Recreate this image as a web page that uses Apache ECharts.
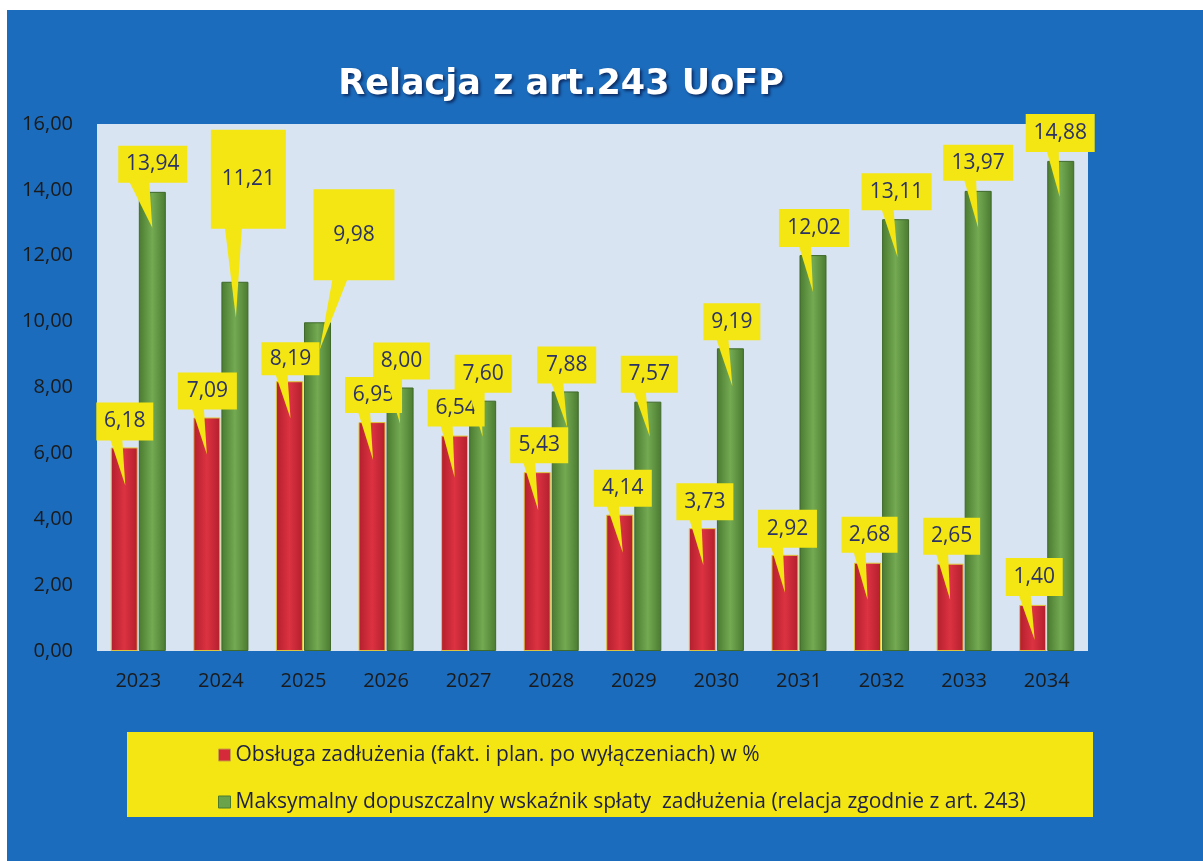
<!DOCTYPE html>
<html>
<head>
<meta charset="utf-8">
<script src="https://cdn.jsdelivr.net/npm/echarts@6/dist/echarts.min.js"></script>
<style>
html,body{margin:0;padding:0;background:#ffffff;}
#chart{width:1203px;height:861px;}
</style>
</head>
<body>
<div id="chart"></div>
<script>
// ---- data ----
const categories = ['2023','2024','2025','2026','2027','2028','2029','2030','2031','2032','2033','2034'];
const debtService = [6.18, 7.09, 8.19, 6.95, 6.54, 5.43, 4.14, 3.73, 2.92, 2.68, 2.65, 1.40];
const maxRatio = [13.94, 11.21, 9.98, 8.00, 7.60, 7.88, 7.57, 9.19, 12.02, 13.11, 13.97, 14.88];
const yMin = 0, yMax = 16, yStep = 2;
const seriesNames = [
  'Obsługa zadłużenia (fakt. i plan. po wyłączeniach) w %',
  'Maksymalny dopuszczalny wskaźnik spłaty  zadłużenia (relacja zgodnie z art. 243)'
];
const titleText = 'Relacja z art.243 UoFP';

// ---- callout styling (offsets relative to bar top: box x, box y, w, h, tip dx, tip dy, tail base l, r) ----
const redCallouts = [
  [-28,-45,57,38,1,38,-14,-2],[-29,-45,59,37,0,37,-15,-3],[-28,-39,58,33,1,37,-14,-2],
  [-27,-45,57,36,1,38,-14,-2],[-27,-46,57,37,0,42,-14,-2],[-27,-45,58,36,1,38,-14,-2],
  [-26,-45,58,37,3,38,-13,-1],[-26,-45,57,37,1,37,-13,-1],[-27,-45,59,38,0,38,-14,-2],
  [-26,-46,56,36,0,37,-14,-2],[-27,-46,57,37,0,36,-14,-2],[-27,-47,57,38,2,35,-14,-2]
];
const greenCallouts = [
  [-34,-46,69,37,0,36,-23,-3],[-24,-152,75,99,1,36,-10,7],[-4,-133,81,91,2,28,15,30],
  [-27,-45,57,37,0,36,-14,-2],[-28,-46,57,38,0,36,-14,-2],[-28,-45,59,37,2,36,-14,-2],
  [-27,-46,57,37,2,35,-14,-2],[-27,-45,57,37,2,38,-14,-2],[-34,-46,70,38,0,37,-14,-2],
  [-34,-46,70,37,2,38,-14,-2],[-35,-46,70,36,0,37,-14,-2],[-35,-47,69,38,-1,36,-14,-2]
];
const YELLOW = '#f3e612';
const FONT = '"Open Sans", "Noto Sans", sans-serif';
const fmt = v => v.toFixed(2).replace('.', ',');

function calloutRenderer(layouts, barOffset) {
  return function (params, api) {
    const i = api.value(0), v = api.value(1);
    const p = api.coord([i, v]);
    const ax = p[0] + barOffset, ay = p[1];
    const L = layouts[i];
    const bx = ax + L[0], by = ay + L[1], w = L[2], h = L[3];
    const tipX = ax + L[4], tipY = ay + L[5];
    const baseY = by + h - 1;
    return {
      type: 'group',
      children: [
        { type: 'polygon', shape: { points: [[ax + L[6], baseY], [ax + L[7], baseY], [tipX, tipY]] },
          style: { fill: YELLOW } },
        { type: 'rect', shape: { x: bx, y: by, width: w, height: h }, style: { fill: YELLOW } },
        { type: 'text', style: { text: fmt(v), x: bx + w / 2, y: by + h / 2, align: 'center', verticalAlign: 'middle',
          fill: '#2b3264', font: '21px ' + FONT } }
      ]
    };
  };
}

const chart = echarts.init(document.getElementById('chart'), null, { renderer: 'canvas' });
const barGrad = (edge, mid) => ({ type: 'linear', x: 0, y: 0, x2: 1, y2: 0,
  colorStops: [{ offset: 0, color: edge }, { offset: 0.5, color: mid }, { offset: 1, color: edge }] });

chart.setOption({
  animation: false,
  backgroundColor: '#ffffff',
  graphic: [
    { type: 'rect', z: -10, silent: true, shape: { x: 7, y: 10, width: 1196, height: 851 }, style: { fill: '#1b6cbc' } },
    { type: 'rect', z: -5, silent: true, shape: { x: 127, y: 732, width: 966, height: 85 }, style: { fill: YELLOW } }
  ],
  title: {
    text: titleText, left: 556, top: 62, textAlign: 'center',
    textStyle: { color: '#ffffff', fontSize: 35, fontWeight: 'bold', fontFamily: '"DejaVu Sans", sans-serif',
      textShadowColor: 'rgba(0,0,40,0.6)', textShadowBlur: 3, textShadowOffsetX: 2, textShadowOffsetY: 2 }
  },
  grid: { left: 97, right: 115, top: 124, bottom: 210, show: true, backgroundColor: '#d9e4f2', borderWidth: 0 },
  legend: {
    orient: 'vertical', left: 213, top: 737, itemGap: 21, itemWidth: 12, itemHeight: 12, z: 10,
    icon: 'rect',
    textStyle: { fontSize: 21, lineHeight: 26, color: '#1e2147', fontFamily: FONT },
    data: [
      { name: seriesNames[0], itemStyle: { color: '#d42a3a', borderColor: '#c9a040', borderWidth: 1 } },
      { name: seriesNames[1], itemStyle: { color: '#6aa34a', borderColor: '#4a7a30', borderWidth: 1 } }
    ]
  },
  xAxis: {
    type: 'category', data: categories,
    axisLine: { show: false }, axisTick: { show: false },
    axisLabel: { fontSize: 20, color: '#1a1a1a', margin: 20, fontFamily: FONT }
  },
  yAxis: {
    type: 'value', min: yMin, max: yMax, interval: yStep,
    axisLine: { show: false }, axisTick: { show: false }, splitLine: { show: false },
    axisLabel: { fontSize: 20, color: '#1a1a1a', margin: 24, fontFamily: FONT, formatter: v => fmt(v) }
  },
  series: [
    { name: seriesNames[0], type: 'bar', data: debtService, barWidth: 27, barGap: '4%',
      itemStyle: { color: barGrad('#b21f2d', '#dc3241'), borderColor: '#e0c43c', borderWidth: 1 } },
    { name: seriesNames[1], type: 'bar', data: maxRatio, barWidth: 27, barGap: '4%',
      itemStyle: { color: barGrad('#4a7a30', '#74aa52'), borderColor: '#3f6a2a', borderWidth: 1 } },
    { type: 'custom', name: 'redLabels', clip: false, z: 5, silent: true,
      renderItem: calloutRenderer(redCallouts, -14),
      data: debtService.map((v, i) => [i, v]), encode: { x: 0, y: 1 } },
    { type: 'custom', name: 'greenLabels', clip: false, z: 5, silent: true,
      renderItem: calloutRenderer(greenCallouts, 14),
      data: maxRatio.map((v, i) => [i, v]), encode: { x: 0, y: 1 } }
  ]
});
</script>
</body>
</html>
